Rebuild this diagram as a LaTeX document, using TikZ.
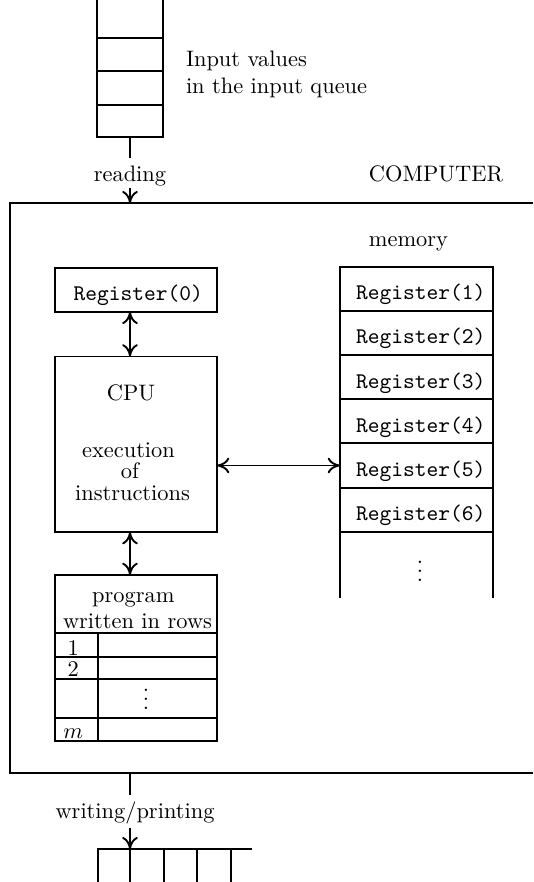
\documentclass[tikz,border=0pt]{standalone}
\usetikzlibrary{arrows.meta}
\def\pu{0.44643pt}
\def\mydots{\vbox{\baselineskip4pt\lineskiplimit0pt\hbox{.}\hbox{.}\hbox{.}}}
\begin{document}
\begin{tikzpicture}[x=0.44643pt,y=-0.44643pt,
  every node/.style={inner sep=0pt,outer sep=0pt},
  lw/.style={line width=0.85pt},
  box/.style={draw,line width=0.85pt},
  regtext/.style={font=\ttfamily,text height=10pt,text depth=0.2pt},
  cell/.style={box,regtext,minimum width=153.3*\pu,minimum height=44.17*\pu,execute at begin node={\hspace*{3.6pt}}},
  arr/.style={lw,-{To[length=5.5pt,width=7pt]}},
  darr/.style={lw,{To[length=5.5pt,width=7pt]}-{To[length=5.5pt,width=7pt]}}]
\useasboundingbox (0,0) rectangle (533,882);

% input queue
\draw[lw] (97.3,0) -- (97.3,137.3) -- (163.3,137.3) -- (163.3,0);
\foreach \y in {37.7,71,105} \draw[lw] (97.3,\y) -- (163.3,\y);
\coordinate (qbot) at (130,137.3);
\coordinate (qstem) at (130,158.3);
\draw[lw] (qbot) -- (qstem);
\node[anchor=base] (reading) at (130,181.7) {reading};
\coordinate (rstart) at (130,188);
\coordinate (ctop) at (130,203.3);
\draw[arr] (rstart) -- (ctop);

\node[anchor=base west] (in1) at (186,66) {Input values};
\node[anchor=base west] (in2) at (186,93.3) {in the input queue};
\node[anchor=base] (comp) at (436,181) {COMPUTER};

% computer frame
\coordinate (c1) at (533,203.3);
\coordinate (c2) at (10,203.3);
\coordinate (c3) at (10,773.3);
\coordinate (c4) at (533,773.3);
\draw[lw] (c1) -- (c2) -- (c3) -- (c4);

% memory
\node[anchor=base] (mem) at (408.5,246.7) {memory};
\foreach \i in {1,...,6}
  \node[cell] (r\i) at (416.65,{266.7+44.17*(\i-0.5)}) {Register(\i)};
\draw[lw] (r6.south west) -- ++(0,66.3);
\draw[lw] (r6.south east) -- ++(0,66.3);
\node[anchor=base] (mdots) at (420,581) {\mydots};

% register 0 and CPU
\node[box,regtext,minimum width=162*\pu,minimum height=43.5*\pu,execute at begin node={\hspace*{2pt}}] (r0) at (136,290) {Register(0)};
\node[box,minimum width=162*\pu,minimum height=175.5*\pu] (cpu) at (136,444.25) {};
\node[anchor=base] (cpu1) at (131,400) {CPU};
\node[anchor=base] (cpu2) at (128.5,457) {execution};
\node[anchor=base] (cpu3) at (130,478) {of};
\node[anchor=base] (cpu4) at (132.5,500) {instructions};

% program
\node[box,minimum width=162.3*\pu,minimum height=165.7*\pu] (prog) at (136.15,657.85) {};
\node[anchor=base] (p1) at (133.3,602) {program};
\node[anchor=base] (p2) at (137.5,628) {written in rows};
\foreach \y in {633.3,656.7,679.3,718.3} \draw[lw] (prog.west |- 0,\y) -- (prog.east |- 0,\y);
\draw[lw] (98.3,633.3) -- (98.3,740.7);
\node[anchor=base] (n1) at (73.3,655) {1};
\node[anchor=base] (n2) at (73.3,676) {2};
\node[anchor=base] (nm) at (73.3,738) {$m$};
\node[anchor=base] (pdots) at (146,709) {\mydots};

% axis and arrows
\coordinate (axis) at (130,0);
\draw[darr] (r0.south -| axis) -- (cpu.north -| axis);
\draw[darr] (cpu.south -| axis) -- (prog.north -| axis);
\draw[darr] (cpu.east |- r5.west) -- (r5.west);

% output
\coordinate (cbot) at (130,773.3);
\coordinate (ostem) at (130,795);
\draw[lw] (cbot) -- (ostem);
\node[anchor=base] (writing) at (135,818) {writing/printing};
\coordinate (wstart) at (130,828);
\coordinate (oq) at (130,849.3);
\draw[arr] (wstart) -- (oq);
\draw[lw] (98.3,882) -- (98.3,849.3) -- (251.7,849.3);
\foreach \x in {130,164,196.7,230.7} \draw[lw] (\x,849.3) -- (\x,882);
\end{tikzpicture}
\end{document}
